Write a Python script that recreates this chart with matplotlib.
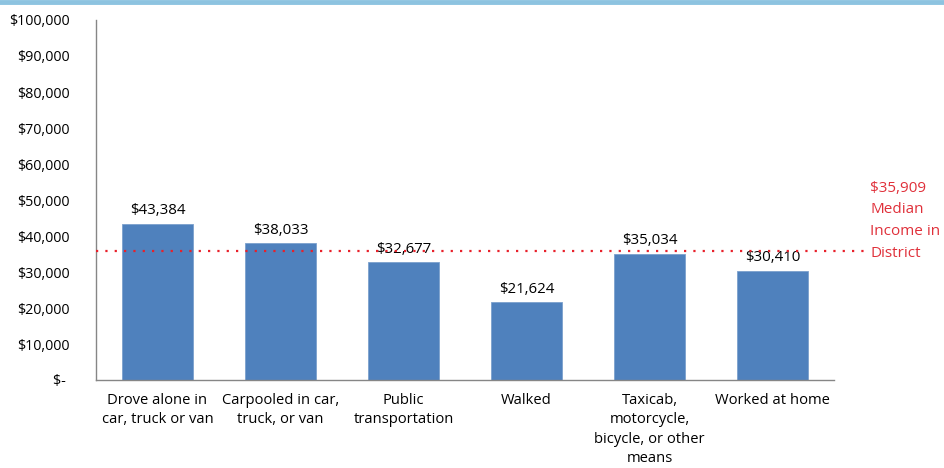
import matplotlib.pyplot as plt
from matplotlib.lines import Line2D
from matplotlib.ticker import FuncFormatter

categories = ["Drove alone in\ncar, truck or van", "Carpooled in car,\ntruck, or van",
              "Public\ntransportation", "Walked",
              "Taxicab,\nmotorcycle,\nbicycle, or other\nmeans", "Worked at home"]
incomes = [43384, 38033, 32677, 21624, 35034, 30410]
median_income = 35909
median_label = "$35,909\nMedian\nIncome in\nDistrict"

plt.rcParams['font.family'] = ['Open Sans', 'DejaVu Sans']

fig = plt.figure(figsize=(9.44, 4.68), dpi=100)
ax = fig.add_axes([96 / 944, 1 - 380 / 468, 738 / 944, 360 / 468])

x = list(range(len(categories)))
ax.bar(x, incomes, width=0.57, color='#4F81BD', edgecolor='#7BA0CD', linewidth=0.6, zorder=2)

for xi, v in zip(x, incomes):
    ax.annotate(f"${v:,}", (xi, v), xytext=(0, 4), textcoords='offset points',
                ha='center', va='bottom', fontsize=10.8, color='#000000')

# median line extends a bit past the plot area
ax.axhline(median_income, xmin=0, xmax=(865 - 96) / 738, color='#E8202A',
           linestyle=(0, (1, 3.2)), linewidth=1.6, clip_on=False, zorder=3)
ax.text(-0.5 + 774 / 123, 55400, median_label, color='#E0303A', fontsize=11,
        ha='left', va='top', linespacing=1.62)

ax.set_xlim(-0.5, len(categories) - 0.5)
ax.set_ylim(0, 100000)
ax.set_yticks(range(0, 100001, 10000))
ax.yaxis.set_major_formatter(FuncFormatter(lambda v, p: "$- " if v == 0 else f"${int(v):,}"))
ax.set_xticks(x)
ax.set_xticklabels(categories, fontsize=10.6, linespacing=1.42)
ax.tick_params(axis='both', length=0)
ax.tick_params(axis='x', pad=9)
ax.tick_params(axis='y', pad=19, labelsize=10.3)

for s in ['top', 'right']:
    ax.spines[s].set_visible(False)
for s in ['left', 'bottom']:
    ax.spines[s].set_color('#868686')
    ax.spines[s].set_linewidth(1.0)

# light blue band along the top edge
fig.add_artist(Line2D([0, 1], [1 - 2 / 468, 1 - 2 / 468], transform=fig.transFigure,
                      color='#8DC3E0', linewidth=3.5))

fig.savefig("out.png", dpi=100)
